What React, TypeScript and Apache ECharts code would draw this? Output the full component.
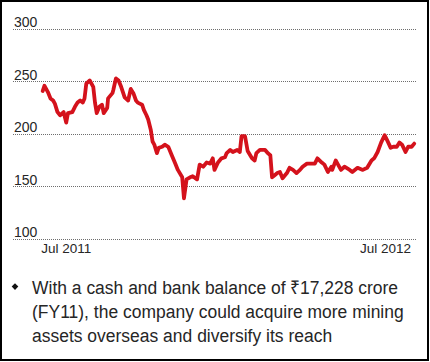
import React, { useEffect, useRef } from "react";
import * as echarts from "echarts";

const dates = [
  "2011-06-04", "2011-06-06", "2011-06-08", "2011-06-10", "2011-06-13", "2011-06-16", "2011-06-18",
  "2011-06-21", "2011-06-24", "2011-06-28", "2011-07-01", "2011-07-03", "2011-07-08", "2011-07-11",
  "2011-07-14", "2011-07-17", "2011-07-20", "2011-07-22", "2011-07-24", "2011-07-28", "2011-08-01",
  "2011-08-03", "2011-08-05", "2011-08-08", "2011-08-11", "2011-08-13", "2011-08-17", "2011-08-18",
  "2011-08-23", "2011-08-24", "2011-08-27", "2011-08-30", "2011-09-02", "2011-09-04", "2011-09-06",
  "2011-09-10", "2011-09-13", "2011-09-16", "2011-09-19", "2011-09-21", "2011-09-26", "2011-09-28",
  "2011-10-01", "2011-10-03", "2011-10-06", "2011-10-08", "2011-10-10", "2011-10-13", "2011-10-15",
  "2011-10-19", "2011-10-22", "2011-10-26", "2011-10-30", "2011-11-03", "2011-11-06", "2011-11-11",
  "2011-11-13", "2011-11-16", "2011-11-20", "2011-11-23", "2011-11-28", "2011-12-01", "2011-12-05",
  "2011-12-09", "2011-12-13", "2011-12-16", "2011-12-18", "2011-12-22", "2011-12-26", "2011-12-30",
  "2012-01-01", "2012-01-05", "2012-01-08", "2012-01-13", "2012-01-16", "2012-01-18", "2012-01-22",
  "2012-01-25", "2012-01-30", "2012-02-02", "2012-02-04", "2012-02-08", "2012-02-14", "2012-02-17",
  "2012-02-20", "2012-02-22", "2012-02-25", "2012-02-28", "2012-03-02", "2012-03-05", "2012-03-10",
  "2012-03-13", "2012-03-17", "2012-03-21", "2012-03-25", "2012-03-28", "2012-04-02", "2012-04-05",
  "2012-04-11", "2012-04-14", "2012-04-19", "2012-04-22", "2012-04-26", "2012-04-30", "2012-05-01",
  "2012-05-05", "2012-05-07", "2012-05-11", "2012-05-15", "2012-05-21", "2012-05-24", "2012-05-30",
  "2012-06-05", "2012-06-10", "2012-06-15", "2012-06-18", "2012-06-22", "2012-06-26", "2012-06-30",
  "2012-07-03", "2012-07-07", "2012-07-10", "2012-07-14", "2012-07-17", "2012-07-20", "2012-07-24",
  "2012-07-27", "2012-07-31", "2012-08-03",
];

const prices = [
  241, 246, 243, 240, 234, 232, 229,
  221, 218, 221, 211, 220, 221, 226,
  230, 232, 230, 234, 248, 251, 245,
  230, 220, 226, 228, 220, 225, 234,
  239, 242, 253, 251, 245, 240, 235,
  232, 243, 239, 232, 230, 228, 223,
  218, 214, 204, 193, 190, 182, 187,
  188, 190, 188, 180, 172, 166, 159,
  139, 157, 159, 160, 157, 171, 169,
  173, 172, 177, 166, 173, 177, 178,
  182, 185, 183, 185, 183, 198, 198,
  184, 177, 175, 182, 185, 185, 182,
  180, 159, 161, 163, 164, 158, 163,
  168, 166, 163, 166, 169, 172, 172,
  172, 177, 173, 171, 164, 169, 166,
  175, 172, 166, 169, 166, 164, 168,
  166, 168, 175, 177, 183, 192, 199,
  194, 187, 188, 188, 192, 190, 183,
  188, 188, 191,
];

const yTicks = [100, 150, 200, 250, 300];
const xTickDates = ["2011-07-01", "2012-07-01"];
const xTickLabels = ["Jul 2011", "Jul 2012"];
const noteLines = [
  "With a cash and bank balance of \u20B917,228 crore",
  "(FY11), the company could acquire more mining",
  "assets overseas and diversify its reach",
];

const toTime = (s: string) => {
  const [y, m, d] = s.split("-").map(Number);
  return new Date(y, m - 1, d).getTime();
};

export default function App() {
  const ref = useRef<HTMLDivElement>(null);

  useEffect(() => {
    document.body.style.margin = "0";
    if (!ref.current) return;
    const chart = echarts.init(ref.current, undefined, { renderer: "svg" });
    const tickTimes = xTickDates.map(toTime);
    const font = "'Liberation Sans', Arial, sans-serif";

    chart.setOption({
      animation: false,
      backgroundColor: "#ffffff",
      grid: { left: 13, right: 14, top: 29, bottom: 122.7, containLabel: false },
      xAxis: {
        type: "value",
        min: toTime("2011-05-01"),
        max: toTime("2012-08-05"),
        axisLine: { show: false },
        axisTick: { show: false },
        splitLine: { show: false },
        axisLabel: {
          customValues: tickTimes,
          showMinLabel: true,
          showMaxLabel: true,
          margin: 2,
          color: "#262626",
          fontSize: 13.5,
          fontFamily: font,
          formatter: (v: number) => {
            const i = tickTimes.findIndex((t) => Math.abs(t - v) < 86400000);
            return i >= 0 ? xTickLabels[i] : "";
          },
        },
      },
      yAxis: {
        type: "value",
        min: yTicks[0],
        max: yTicks[yTicks.length - 1],
        interval: 50,
        axisLine: { show: false },
        axisTick: { show: false },
        axisLabel: {
          inside: true,
          margin: 1,
          verticalAlign: "bottom",
          color: "#262626",
          fontSize: 14,
          fontFamily: font,
        },
        splitLine: { lineStyle: { color: "#6e6e6e", type: [1, 1], width: 1 } },
      },
      series: [
        {
          type: "line",
          data: dates.map((d, i) => [toTime(d), prices[i]]),
          showSymbol: false,
          lineStyle: { color: "#d4121c", width: 3.8, join: "round", cap: "round" },
        },
      ],
      graphic: [
        {
          type: "rect",
          shape: { x: 1, y: 1, width: 427, height: 359 },
          style: { fill: "none", stroke: "#000", lineWidth: 2 },
          silent: true,
        },
        {
          type: "polygon",
          shape: { points: [[15, 283.3], [18.3, 286.6], [15, 289.9], [11.7, 286.6]] },
          style: { fill: "#111" },
        },
        ...noteLines.map((t, i) => ({
          type: "text",
          x: 32,
          y: 287.6 + i * 23.8,
          scaleX: 0.92,
          style: {
            text: t,
            fill: "#262626",
            fontSize: 19,
            fontFamily: font,
            verticalAlign: "middle",
            align: "left",
          },
        })),
      ],
    });
    return () => chart.dispose();
  }, []);

  return <div ref={ref} style={{ width: 430, height: 362 }} />;
}
